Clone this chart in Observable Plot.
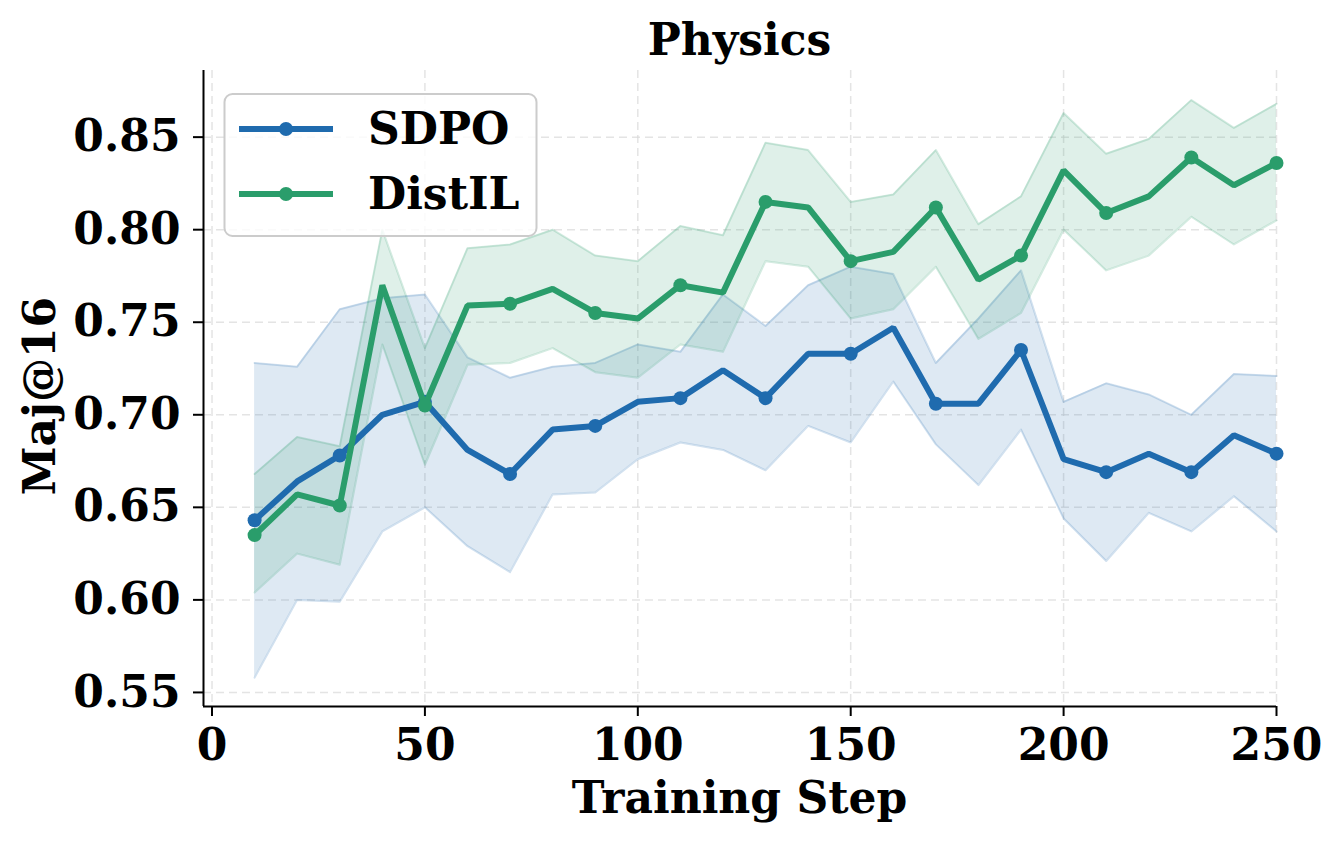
<!DOCTYPE html>
<html>
<head>
<meta charset="utf-8">
<script src="https://cdn.jsdelivr.net/npm/d3@7"></script>
<script src="https://cdn.jsdelivr.net/npm/@observablehq/plot@0.6"></script>
<style>
  html, body { margin: 0; padding: 0; background: #fff; }
  #chart svg { display: block; }
</style>
</head>
<body>
<div id="chart"></div>
<script>
// Training steps at which Maj@16 was evaluated
const steps = [10, 20, 30, 40, 50, 60, 70, 80, 90, 100, 110, 120, 130, 140, 150, 160, 170, 180, 190, 200, 210, 220, 230, 240, 250];

// SDPO: mean and band (lower / upper)
const sdpoMean = [0.643, 0.664, 0.678, 0.700, 0.707, 0.681, 0.668, 0.692, 0.694, 0.707, 0.709, 0.724, 0.709, 0.733, 0.733, 0.747, 0.706, 0.706, 0.735, 0.676, 0.669, 0.679, 0.669, 0.689, 0.679];
const sdpoLow  = [0.558, 0.600, 0.599, 0.637, 0.650, 0.629, 0.615, 0.657, 0.658, 0.676, 0.685, 0.681, 0.670, 0.694, 0.685, 0.718, 0.684, 0.662, 0.692, 0.644, 0.621, 0.647, 0.637, 0.656, 0.637];
const sdpoHigh = [0.728, 0.726, 0.757, 0.763, 0.765, 0.731, 0.720, 0.726, 0.728, 0.738, 0.734, 0.765, 0.748, 0.770, 0.780, 0.776, 0.728, 0.752, 0.778, 0.707, 0.717, 0.711, 0.700, 0.722, 0.721];

// DistIL: mean and band (lower / upper)
const distilMean = [0.635, 0.657, 0.651, 0.770, 0.705, 0.759, 0.760, 0.768, 0.755, 0.752, 0.770, 0.766, 0.815, 0.812, 0.783, 0.788, 0.812, 0.773, 0.786, 0.832, 0.809, 0.818, 0.839, 0.824, 0.836];
const distilLow  = [0.604, 0.625, 0.619, 0.738, 0.673, 0.727, 0.728, 0.736, 0.723, 0.720, 0.738, 0.734, 0.783, 0.780, 0.752, 0.757, 0.780, 0.741, 0.755, 0.800, 0.778, 0.786, 0.807, 0.792, 0.805];
const distilHigh = [0.668, 0.688, 0.683, 0.800, 0.736, 0.790, 0.792, 0.800, 0.786, 0.783, 0.802, 0.797, 0.847, 0.843, 0.815, 0.819, 0.843, 0.803, 0.818, 0.863, 0.841, 0.849, 0.870, 0.855, 0.868];

const seriesNames = ["SDPO", "DistIL"];
const seriesColors = ["#1f6bae", "#2a9d6b"];

const xTicks = [0, 50, 100, 150, 200, 250];
const yTicks = [0.55, 0.60, 0.65, 0.70, 0.75, 0.80, 0.85];

const titleText = "Physics";
const xLabel = "Training Step";
const yLabel = "Maj@16";

// Long-format rows for each series
function rows(name, mean, low, high) {
  return steps.map((s, i) => ({ series: name, step: s, mean: mean[i], low: low[i], high: high[i], i }));
}
const sdpo = rows("SDPO", sdpoMean, sdpoLow, sdpoHigh);
const distil = rows("DistIL", distilMean, distilLow, distilHigh);

const font = "'DejaVu Serif', serif";
const fontSize = 44;
const W = 1342, H = 843;
const mL = 203, mR = 66, mT = 70, mB = 137;
const xDomain = [-2, 250];
const yDomain = [0.5424, 0.886];

const lineW = 6, dotR = 7;
const grid = { stroke: "#d9d9d9", strokeOpacity: 0.7, strokeWidth: 1.5, strokeDasharray: "8,5" };

function seriesMarks(data, color) {
  return [
    Plot.areaY(data, { x: "step", y1: "low", y2: "high", fill: color, fillOpacity: 0.15 }),
    Plot.line(data, { x: "step", y: "low", stroke: color, strokeOpacity: 0.2, strokeWidth: 2 }),
    Plot.line(data, { x: "step", y: "high", stroke: color, strokeOpacity: 0.2, strokeWidth: 2 })
  ];
}
function meanMarks(data, color) {
  return [
    Plot.line(data, { x: "step", y: "mean", stroke: color, strokeWidth: lineW, strokeLinejoin: "miter", strokeLinecap: "butt" }),
    Plot.dot(data.filter(d => d.i % 2 === 0), { x: "step", y: "mean", r: dotR, fill: color, stroke: "none" })
  ];
}

const plot = Plot.plot({
  width: W,
  height: H,
  marginLeft: mL,
  marginRight: mR,
  marginTop: mT,
  marginBottom: mB,
  style: { fontFamily: font, background: "#fff", overflow: "visible" },
  x: { domain: xDomain, label: null },
  y: { domain: yDomain, label: null },
  marks: [
    Plot.gridX(xTicks, grid),
    Plot.gridY(yTicks, grid),
    ...seriesMarks(sdpo, seriesColors[0]),
    ...seriesMarks(distil, seriesColors[1]),
    ...meanMarks(sdpo, seriesColors[0]),
    ...meanMarks(distil, seriesColors[1]),
    Plot.ruleX([xDomain[0]], { stroke: "#000", strokeWidth: 2 }),
    Plot.ruleY([yDomain[0]], { stroke: "#000", strokeWidth: 2 }),
    Plot.axisX(xTicks, {
      tickSize: 10, tickPadding: 12, tickFormat: d => String(d),
      fontSize, fontWeight: "bold", fill: "#000", stroke: "#000", strokeWidth: 2, label: null
    }),
    Plot.axisY(yTicks, {
      tickSize: 10, tickPadding: 13, tickFormat: d => d.toFixed(2),
      fontSize, fontWeight: "bold", fill: "#000", stroke: "#000", strokeWidth: 2, label: null
    })
  ]
});

document.getElementById("chart").appendChild(plot);

// Title, axis labels and legend added onto the same SVG
const svg = d3.select(plot);
const xr = plot.scale("x").range;
const cx = (xr[0] + xr[1]) / 2;

function addText(sel) {
  return sel.append("text")
    .attr("font-family", font).attr("font-weight", "bold").attr("font-size", fontSize)
    .attr("fill", "#000");
}

addText(svg).attr("x", cx).attr("y", 55).attr("text-anchor", "middle").text(titleText);
addText(svg).attr("x", cx).attr("y", 813).attr("text-anchor", "middle").text(xLabel);
addText(svg).attr("transform", "translate(55, 396) rotate(-90)").attr("text-anchor", "middle").text(yLabel);

const legend = svg.append("g");
legend.append("rect")
  .attr("x", 224.5).attr("y", 94).attr("width", 312).attr("height", 142)
  .attr("rx", 8).attr("ry", 8)
  .attr("fill", "#fff").attr("fill-opacity", 0.8)
  .attr("stroke", "#cccccc").attr("stroke-width", 2);

const rowY = [129, 194];
seriesNames.forEach((name, k) => {
  const y = rowY[k];
  legend.append("line")
    .attr("x1", 239).attr("x2", 333).attr("y1", y).attr("y2", y)
    .attr("stroke", seriesColors[k]).attr("stroke-width", lineW);
  legend.append("circle")
    .attr("cx", 286).attr("cy", y).attr("r", dotR)
    .attr("fill", seriesColors[k]);
  addText(legend).attr("x", 368).attr("y", y + 15).attr("text-anchor", "start").text(name);
});
</script>
</body>
</html>
